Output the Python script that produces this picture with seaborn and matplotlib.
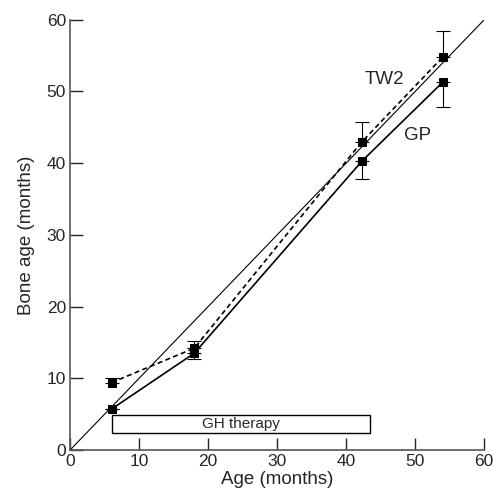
import pandas as pd
import matplotlib
matplotlib.use("Agg")
import matplotlib.pyplot as plt
import seaborn as sns
from matplotlib.patches import Rectangle

# Datos
edad = [6, 18, 42.3, 54]
gp = [5.7, 13.5, 40.3, 51.3]
gp_err_inf = [0.0, 0.8, 2.5, 3.5]
tw2 = [9.4, 14.2, 43.0, 54.8]
tw2_err_sup = [0.7, 1.0, 2.8, 3.7]
terapia = [6.1, 43.4]

sns.set_style("ticks")
plt.rcParams['font.family'] = ['Liberation Sans', 'DejaVu Sans']

df = pd.DataFrame({
    'edad': edad * 2,
    'edad_osea': gp + tw2,
    'metodo': ['GP'] * 4 + ['TW2'] * 4,
})

fig = plt.figure(figsize=(4.94, 4.95), dpi=100)
ax = fig.add_axes([0.142, 0.091, 0.838, 0.869])

# Linea de identidad
ax.plot([0, 60], [0, 60], color='black', lw=0.8)

sns.lineplot(data=df, x='edad', y='edad_osea', style='metodo',
             dashes={'GP': '', 'TW2': (3, 2)}, color='black', lw=1.2,
             marker='s', markersize=5.5, markeredgecolor='black',
             legend=False, ax=ax)

ax.errorbar(edad, gp, yerr=[gp_err_inf, [0] * 4], fmt='none',
            ecolor='black', elinewidth=0.8, capsize=5, capthick=0.8)
ax.errorbar(edad, tw2, yerr=[[0] * 4, tw2_err_sup], fmt='none',
            ecolor='black', elinewidth=0.8, capsize=5, capthick=0.8)

# Barra de terapia GH
ax.add_patch(Rectangle((terapia[0], 2.4), terapia[1] - terapia[0], 2.5,
                       fill=False, edgecolor='black', lw=1))
ax.text((terapia[0] + terapia[1]) / 2, 3.65, 'GH therapy',
        ha='center', va='center', fontsize=11)

ax.text(45.5, 51.7, 'TW2', fontsize=13.5, ha='center', va='center')
ax.text(50.4, 43.9, 'GP', fontsize=13.5, ha='center', va='center')

ax.set_xlim(0, 60)
ax.set_ylim(0, 60)
ax.set_xticks(range(0, 61, 10))
ax.set_yticks(range(0, 61, 10))
ax.tick_params(direction='in', length=9, width=1, labelsize=12.5, pad=3)
ax.set_xlabel('Age (months)', fontsize=13.5, labelpad=1)
ax.set_ylabel('Bone age (months)', fontsize=13.5, labelpad=8)
sns.despine(ax=ax)
for s in ['left', 'bottom']:
    ax.spines[s].set_color('#555555')
    ax.spines[s].set_linewidth(1.2)

fig.savefig('out.png', dpi=100)
